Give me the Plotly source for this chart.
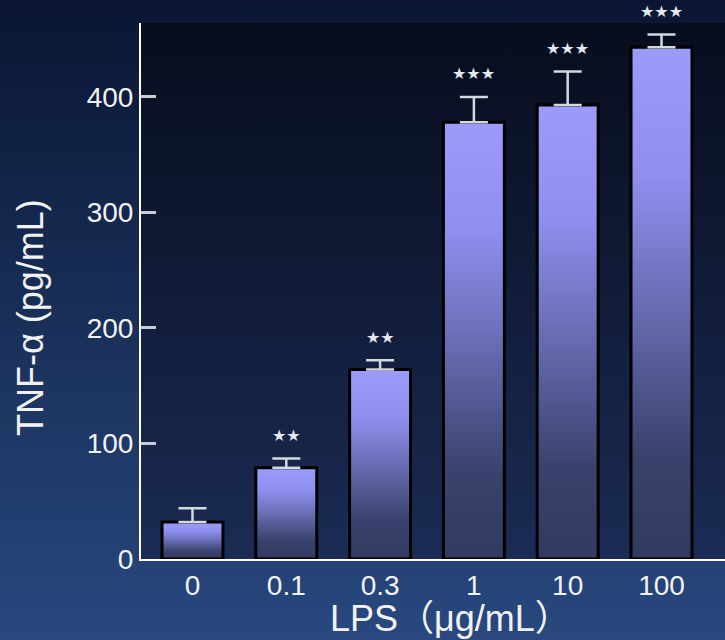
import plotly.graph_objects as go

# ---------------- data ----------------
categories = ["0", "0.1", "0.3", "1", "10", "100"]
tnf_mean = [32, 79, 164, 378, 393, 443]
tnf_err = [12, 8, 8, 22, 29, 11]
significance = ["", "★★", "★★", "★★★", "★★★", "★★★"]
y_ticks = [0, 100, 200, 300, 400]

x_title = "LPS（μg/mL）"
y_title = "TNF-α (pg/mL)"

# ---------------- layout constants ----------------
W, H = 725, 640
PLOT_L, PLOT_T, PLOT_B = 141, 23, 559
BAR_HALF = 0.325
FONT = "Liberation Sans, Arial, Noto Sans CJK SC, sans-serif"

px0 = PLOT_L / W
py0 = (H - PLOT_B) / H
py1 = (H - PLOT_T) / H

bar_scale = [[0.0, "#313b60"], [0.2, "#39426c"], [0.5, "#6a6db4"],
             [0.75, "#8e8fef"], [1.0, "#9b9bfb"]]

fig = go.Figure()

# page background gradient (decoration, on full-page helper axes)
fig.add_trace(go.Scatter(
    x=[0, 1, 1, 0, 0], y=[0, 0, 1, 1, 0], mode="lines", fill="toself",
    line=dict(width=0),
    fillgradient=dict(type="vertical", colorscale=[[0, "#28487f"], [1, "#0a1632"]]),
    hoverinfo="skip", showlegend=False, xaxis="x", yaxis="y"))
# plot-area background gradient
fig.add_trace(go.Scatter(
    x=[px0, 1, 1, px0, px0], y=[py0, py0, py1, py1, py0], mode="lines", fill="toself",
    line=dict(width=0),
    fillgradient=dict(type="vertical", colorscale=[[0, "#1b2b54"], [1, "#070d1d"]]),
    hoverinfo="skip", showlegend=False, xaxis="x", yaxis="y"))

# bars with vertical gradient
for i, v in enumerate(tnf_mean):
    fig.add_trace(go.Scatter(
        x=[i - BAR_HALF, i - BAR_HALF, i + BAR_HALF, i + BAR_HALF, i - BAR_HALF],
        y=[0, v, v, 0, 0], mode="lines", fill="toself",
        line=dict(color="black", width=3),
        fillgradient=dict(type="vertical", colorscale=bar_scale),
        name=categories[i], showlegend=False, xaxis="x2", yaxis="y2"))

# error bars (upper only)
fig.add_trace(go.Scatter(
    x=list(range(len(categories))), y=tnf_mean, mode="markers",
    marker=dict(size=1, opacity=0),
    error_y=dict(type="data", symmetric=False, array=tnf_err,
                 arrayminus=[0] * len(tnf_err), width=14, thickness=2.5,
                 color="#d4d8e0"),
    showlegend=False, hoverinfo="skip", xaxis="x2", yaxis="y2"))

annotations = []
for i, s in enumerate(significance):
    if s:
        annotations.append(dict(
            x=i, y=tnf_mean[i] + tnf_err[i], xref="x2", yref="y2",
            text=s, showarrow=False, yanchor="middle", yshift=23,
            font=dict(family="DejaVu Sans", size=16, color="#e6e8f0")))

annotations.append(dict(
    x=451 / W, y=(H - 618) / H, xref="paper", yref="paper", text=x_title,
    showarrow=False, xanchor="center", yanchor="middle",
    font=dict(family=FONT, size=36, color="#f2f2f2")))
annotations.append(dict(
    x=30 / W, y=(H - 318) / H, xref="paper", yref="paper", text=y_title,
    showarrow=False, xanchor="center", yanchor="middle", textangle=-90,
    font=dict(family=FONT, size=36, color="#f2f2f2")))

fig.update_layout(
    width=W, height=H,
    margin=dict(l=0, r=0, t=0, b=0, pad=0, autoexpand=False),
    paper_bgcolor="#152a55",
    plot_bgcolor="rgba(0,0,0,0)",
    showlegend=False,
    xaxis=dict(domain=[0, 1], range=[0, 1], visible=False, fixedrange=True,
               automargin=False),
    yaxis=dict(domain=[0, 1], range=[0, 1], visible=False, fixedrange=True,
               automargin=False),
    xaxis2=dict(domain=[px0, 1], range=[-0.549, 5.677], anchor="y2",
                automargin=False,
                tickmode="array", tickvals=list(range(len(categories))),
                ticktext=categories, ticks="", showline=True, linecolor="white",
                linewidth=2, showgrid=False, zeroline=False,
                tickfont=dict(family=FONT, size=28, color="#f2f2f2")),
    yaxis2=dict(domain=[py0, py1], range=[0, 464], anchor="x2",
                automargin=False,
                tickmode="array", tickvals=y_ticks, ticks="inside", ticklen=15,
                tickwidth=3, tickcolor="#c8ccd4", showline=True,
                linecolor="white", linewidth=2, showgrid=False, zeroline=False,
                tickfont=dict(family=FONT, size=28, color="#f2f2f2")),
    annotations=annotations,
)

fig.write_html("out.html")
